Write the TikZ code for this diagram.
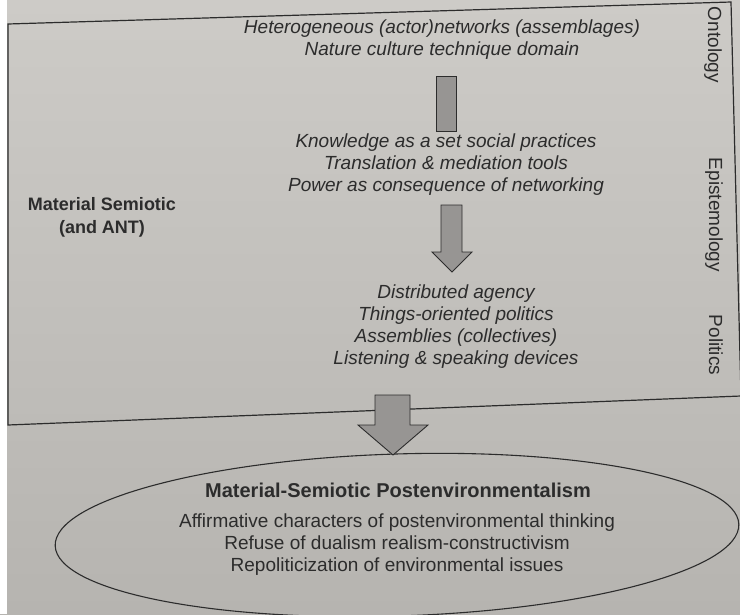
\documentclass[tikz,border=0pt]{standalone}
\usepackage{fontspec}
\setmainfont{Liberation Sans}
\usetikzlibrary{shapes.geometric}
\definecolor{paperlight}{HTML}{CDCBC7}
\definecolor{paperdark}{HTML}{B6B4B0}
\definecolor{ink}{HTML}{2C2C2C}
\definecolor{arrowgray}{HTML}{979593}
\tikzset{
  frame/.style={draw=ink, line width=1.2pt, line join=miter},
  blockarrow/.style={draw=ink, fill=arrowgray, line width=0.9pt, line join=miter},
  itext/.style={font=\fontsize{19}{22}\selectfont\itshape, text=ink, align=center, inner sep=0pt},
  rtext/.style={font=\fontsize{19}{22}\selectfont, text=ink, align=center, inner sep=0pt},
  btext/.style={font=\fontsize{18}{23}\selectfont\bfseries, text=ink, align=center, inner sep=0pt},
  titletext/.style={font=\fontsize{20}{24}\selectfont\bfseries, text=ink, align=center, inner sep=0pt},
  sidelabel/.style={font=\fontsize{19}{22}\selectfont, text=ink, rotate=-90, inner sep=0pt},
}
\begin{document}
\begin{tikzpicture}[x=1pt, y=-1pt]
\useasboundingbox (0,0) rectangle (740,614);
% page background
\shade[top color=paperlight, bottom color=paperdark] (0,0) rectangle (740,614);
\fill[white] (0,0) rectangle (7,614);

% outer frame of the material-semiotic field
\coordinate (tl) at (8,24);
\coordinate (tr) at (731,2);
\coordinate (br) at (741,396);
\coordinate (bl) at (8,425);
\draw[frame] (tr) -- (tl) -- (bl) -- (br) -- cycle;

% text blocks
\node[itext] (onto) at (442,39.5) {Heterogeneous (actor)networks (assemblages)\\Nature culture technique domain};
\node[itext] (epis) at (446,165) {Knowledge as a set social practices\\Translation \& mediation tools\\Power as consequence of networking};
\node[itext] (poli) at (456,327) {Distributed agency\\Things-oriented politics\\Assemblies (collectives)\\Listening \& speaking devices};
\node[btext] (ms) at (102,217.5) {Material Semiotic\\(and ANT)};

% side labels
\node[sidelabel] (lonto) at (713,45) {Ontology};
\node[sidelabel] (lepis) at (714,215) {Epistemology};
\node[sidelabel] (lpoli) at (716,345) {Politics};

% block arrows
\draw[blockarrow] (436,76) rectangle (456,131);
\draw[blockarrow] (441,205) -- (462,205) -- (462,252) -- (472,252) -- (452,272)
  -- (432,252) -- (441,252) -- cycle;

% resulting position
\node[ellipse, draw=ink, line width=1.1pt, minimum width=684pt, minimum height=162pt,
  rotate=1.8] (post) at (397,535) {};
\draw[blockarrow] (375,395) -- (410,395) -- (410,425) -- (428,425) -- (393,455)
  -- (358,425) -- (375,425) -- cycle;

\node[titletext] (ptitle) at (398,490) {Material-Semiotic Postenvironmentalism};
\node[rtext] (pbody) at (397,545) {Affirmative characters of postenvironmental thinking\\Refuse of dualism realism-constructivism\\Repoliticization of environmental issues};
\end{tikzpicture}
\end{document}
